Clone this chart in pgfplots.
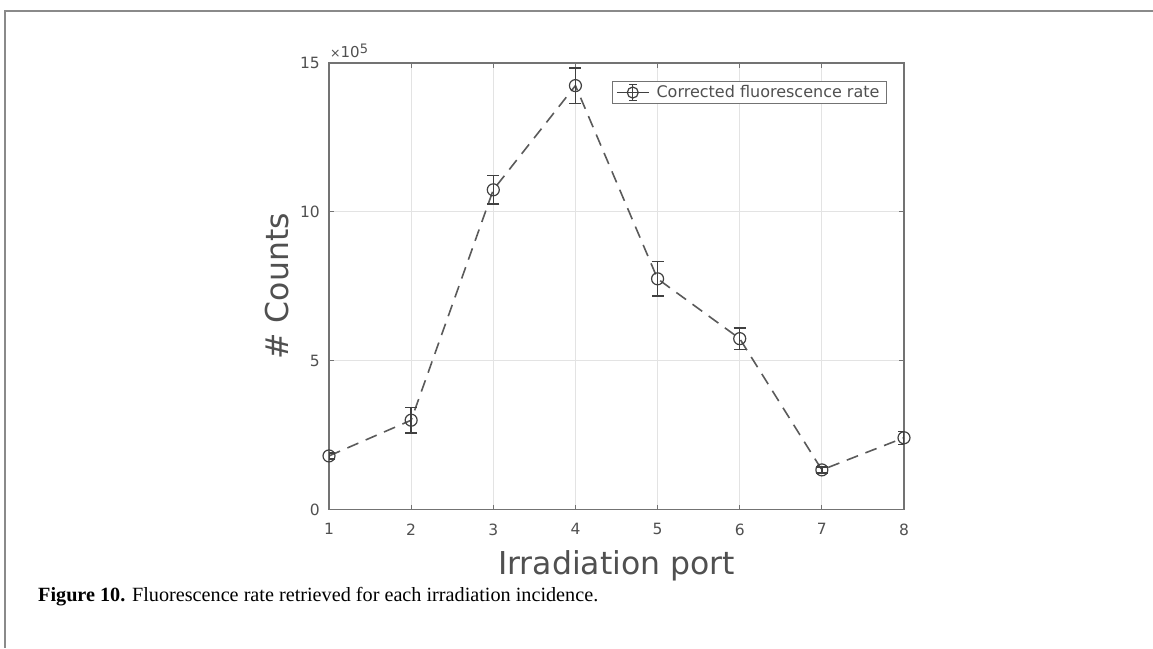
\documentclass[border=0pt]{standalone}
\usepackage{pgfplots}
\pgfplotsset{compat=1.18}
\usepackage{fontspec}
\setmainfont{DejaVu Sans}
\newfontfamily\capfont{Liberation Serif}

\definecolor{txt}{HTML}{505050}
\definecolor{axc}{HTML}{737373}
\definecolor{grd}{HTML}{E3E3E3}
\definecolor{ln}{HTML}{5A5A5A}
\definecolor{mk}{HTML}{404040}
\definecolor{framec}{HTML}{8A8A8A}

\begin{document}
\begin{tikzpicture}[x=1pt,y=1pt]
\useasboundingbox (0,0) rectangle (1153,648);
\draw[framec, line width=1.8pt] (1153,637) -- (5,637) -- (5,0);
\begin{axis}[
  at={(329pt,138.5pt)}, anchor=south west,
  scale only axis, width=575pt, height=446.5pt,
  xmin=1, xmax=8, ymin=0, ymax=1500000,
  xtick={1,2,3,4,5,6,7,8}, ytick={0,500000,1000000,1500000},
  scaled y ticks=base 10:-5,
  ytick scale label code/.code={},
  tick align=inside, tick pos=both,
  major tick length=5pt,
  tick style={axc, line width=1pt},
  axis line style={axc, line width=1.5pt},
  grid=major, major grid style={grd, line width=0.9pt},
  /pgf/number format/assume math mode=true,
  ticklabel style={text=txt, font=\fontsize{15.5}{15.5}\selectfont},
  yticklabel style={anchor=east, inner sep=0pt, xshift=-9pt},
  xticklabel style={anchor=north, inner sep=0pt, yshift=-13.8pt},
  xlabel={Irradiation port}, ylabel={\# Counts},
  label style={text=txt, font=\fontsize{31.5}{31.5}\selectfont},
  xlabel style={at={(rel axis cs:0.5,-0.1445)}, anchor=base},
  ylabel style={at={(rel axis cs:-0.0713,0.5)}, anchor=base},
  legend style={at={(rel axis cs:0.9704,0.9603)}, anchor=north east, draw=axc, line width=1pt, fill=white, text=txt, font=\fontsize{16}{16}\selectfont, inner xsep=4pt, inner ysep=2.5pt, nodes={inner xsep=3pt, inner ysep=2pt}},
  legend cell align=left,
  legend image code/.code={
    \draw[mk, solid, line width=1.2pt] (0pt,0pt) -- (32pt,0pt);
    \draw[mk, solid, line width=1.2pt] (16pt,-8pt) -- (16pt,8pt) (12pt,8pt) -- (20pt,8pt) (12pt,-8pt) -- (20pt,-8pt);
    \draw[mk, solid, line width=1.2pt] (16pt,0pt) circle (5.5pt);
    \path (36pt,0pt);
  },
]
\addplot[ln, dash pattern=on 12pt off 8pt, line width=1.6pt,
  mark=o, mark size=6pt, mark options={solid, mk, line width=1.2pt},
  error bars/.cd, y dir=both, y explicit,
  error bar style={solid, mk, line width=1.3pt},
  error mark options={rotate=90, mk, mark size=6pt, line width=1.3pt, solid}]
table[x=x, y=y, y error=e] {
x y e
1 180000 10000
2 300000 43000
3 1074000 48000
4 1424000 59000
5 775000 58000
6 574000 36000
7 133000 10000
8 241000 22000
};
\addlegendentry{Corrected fluorescence rate}
\end{axis}
\node[anchor=base west, inner sep=0pt, text=txt, font=\fontsize{15}{15}\selectfont] at (330,590.3) {{\fontsize{12.5}{12.5}\selectfont ×}10\raisebox{4.5pt}{\fontsize{13}{13}\selectfont 5}};
\node[anchor=base west, inner sep=0pt, font=\capfont\fontsize{19}{19}\selectfont] at (38,47) {\resizebox{560pt}{!}{\textbf{Figure 10.} Fluorescence rate retrieved for each irradiation incidence.}};
\end{tikzpicture}
\end{document}
